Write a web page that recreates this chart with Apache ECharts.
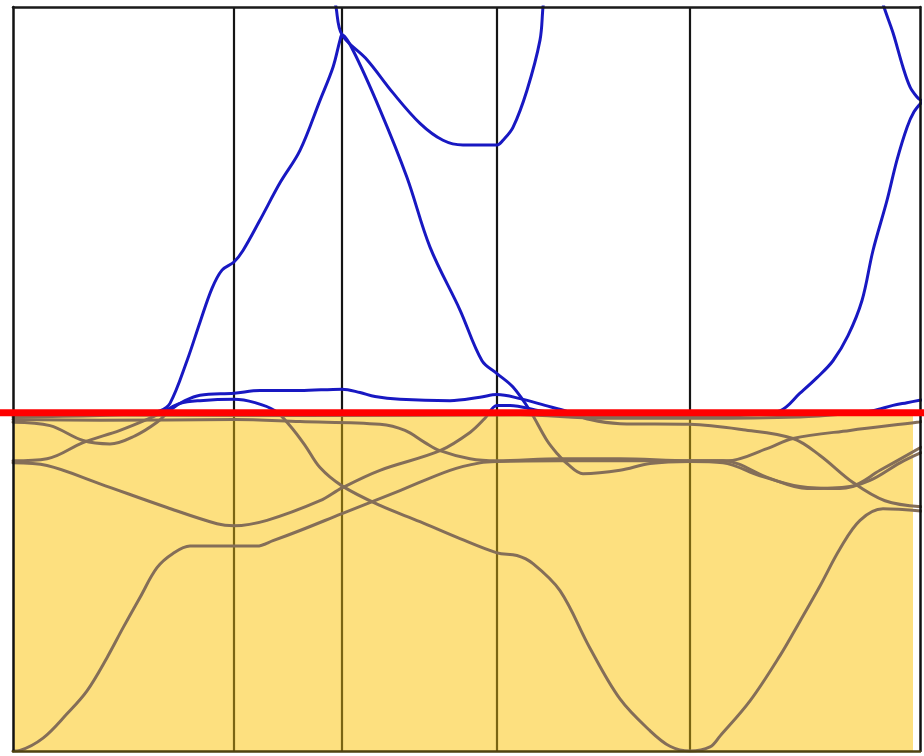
<!DOCTYPE html>
<html>
<head>
<meta charset="utf-8">
<script src="https://cdn.jsdelivr.net/npm/echarts@6/dist/echarts.min.js"></script>
<style>
  html, body { margin: 0; padding: 0; background: #ffffff; }
  #chart { width: 924px; height: 756px; }
</style>
</head>
<body>
<div id="chart"></div>
<script>
// High-symmetry points along the k-path (path-length units)
const kPoints = [0, 2.21, 3.29, 4.84, 6.77, 9.07];
// Energy window (eV) and Fermi level
const energyRange = [-5, 6];
const fermiLevel = 0;
// Extent of the occupied-state shading along k
const occupiedEnd = 9.00;

// Band dispersions E(k), each as [k, E] pairs
const bandC1 = [[0,-0.06],[0.87,-0.04],[1.35,0.00],[1.47,0.03],[1.57,0.14],[1.74,0.77],[1.87,1.34],[1.99,1.84],[2.09,2.11],[2.21,2.23],[2.30,2.40],[2.47,2.85],[2.67,3.40],[2.87,3.88],[3.07,4.62],[3.20,5.11],[3.27,5.51],[3.29,5.59],[3.40,5.36],[3.67,4.48],[3.94,3.48],[4.17,2.45],[4.47,1.52],[4.69,0.77],[4.84,0.58],[5.00,0.38],[5.17,0.03],[5.34,-0.41],[5.44,-0.60],[5.54,-0.75],[5.70,-0.90],[6.07,-0.85],[6.37,-0.75],[6.77,-0.72],[7.10,-0.74],[7.47,-0.93],[7.87,-1.09],[8.27,-1.12],[8.57,-1.00],[8.87,-0.74],[9.08,-0.59]];
const bandT = [[3.15,6.70],[3.23,6.00],[3.29,5.59],[3.54,5.22],[3.80,4.73],[4.07,4.28],[4.30,4.03],[4.50,3.96],[4.84,3.96],[4.90,4.03],[5.00,4.22],[5.14,4.77],[5.27,5.51],[5.30,6.00],[5.34,6.55]];
const bandR2 = [[8.57,6.70],[8.71,6.00],[8.80,5.62],[8.90,5.11],[8.97,4.82],[9.04,4.67],[9.08,4.62]];
const bandP = [[0,-0.14],[0.37,-0.19],[0.70,-0.41],[0.97,-0.46],[1.22,-0.34],[1.44,-0.14],[1.59,0.06],[1.72,0.18],[1.87,0.26],[2.21,0.29],[2.47,0.33],[2.87,0.33],[3.29,0.35],[3.47,0.30],[3.62,0.24],[3.87,0.20],[4.37,0.18],[4.67,0.23],[4.84,0.27],[5.07,0.21],[5.32,0.11],[5.54,0.02],[5.77,-0.10],[6.07,-0.16],[6.77,-0.17],[7.30,-0.25],[7.80,-0.38],[8.07,-0.63],[8.40,-1.03],[8.72,-1.30],[9.08,-1.39]];
const bandQ = [[0,-0.71],[0.34,-0.68],[0.70,-0.44],[1.07,-0.26],[1.37,-0.08],[1.52,0.03],[1.67,0.14],[1.87,0.18],[2.21,0.20],[2.42,0.15],[2.62,0.03],[2.77,-0.19],[2.92,-0.48],[3.07,-0.81],[3.29,-1.08],[3.67,-1.37],[4.07,-1.61],[4.47,-1.86],[4.84,-2.07],[5.04,-2.11],[5.20,-2.23],[5.47,-2.63],[5.77,-3.48],[6.07,-4.23],[6.37,-4.70],[6.57,-4.93],[6.77,-5.00],[6.97,-4.94],[7.07,-4.78],[7.37,-4.26],[7.67,-3.59],[7.87,-3.08],[8.07,-2.56],[8.27,-2.01],[8.47,-1.59],[8.70,-1.42],[9.08,-1.45]];
const bandB2 = [[0,-0.74],[0.34,-0.78],[0.87,-1.05],[1.54,-1.40],[2.04,-1.64],[2.21,-1.67],[2.54,-1.59],[3.07,-1.30],[3.29,-1.11],[3.67,-0.85],[4.27,-0.56],[4.57,-0.29],[4.72,-0.08],[4.84,0.11],[4.97,0.11],[5.27,0.03],[5.57,-0.03],[6.77,-0.07],[7.27,-0.04],[7.67,0.03],[7.87,0.29],[8.04,0.52],[8.20,0.77],[8.35,1.14],[8.49,1.66],[8.60,2.40],[8.74,3.14],[8.84,3.74],[8.94,4.22],[9.01,4.45],[9.08,4.58]];
const bandY = [[0,-0.10],[0.87,-0.11],[2.21,-0.10],[2.87,-0.13],[3.67,-0.17],[3.92,-0.26],[4.12,-0.44],[4.27,-0.56],[4.57,-0.68],[4.84,-0.71],[5.47,-0.68],[6.07,-0.68],[6.77,-0.71],[7.14,-0.71],[7.54,-0.53],[7.80,-0.38],[8.37,-0.26],[9.04,-0.14],[9.08,-0.13]];
const bandB1 = [[0,-5.00],[0.07,-4.99],[0.30,-4.81],[0.54,-4.45],[0.74,-4.11],[0.94,-3.62],[1.10,-3.18],[1.27,-2.73],[1.44,-2.29],[1.60,-2.08],[1.77,-1.97],[2.21,-1.97],[2.44,-1.97],[2.60,-1.89],[2.87,-1.74],[3.29,-1.49],[3.87,-1.15],[4.37,-0.85],[4.67,-0.74],[4.84,-0.72],[5.47,-0.71],[6.27,-0.71],[7.10,-0.71],[7.57,-0.97],[7.94,-1.12],[8.37,-1.09],[8.67,-0.85],[9.08,-0.51]];
const bandZ = [[0,-0.03],[2.87,-0.04],[5.07,-0.03],[5.87,-0.08],[6.87,-0.08],[7.87,-0.06],[8.37,-0.01],[8.60,0.03],[8.80,0.11],[8.94,0.15],[9.08,0.19]];

const bands = [bandC1, bandT, bandR2, bandP, bandQ, bandB2, bandY, bandB1, bandZ];

const colors = {
  occupied: '#fde07f',
  bandBelow: '#846e58',
  bandAbove: '#1818c2',
  symLineBelow: '#7a6512',
  symLineAbove: '#151515',
  fermi: '#ff0000'
};

const chart = echarts.init(document.getElementById('chart'), null, { renderer: 'canvas' });
const kMax = kPoints[kPoints.length - 1];
const [eMin, eMax] = energyRange;

const series = [];

// Shading of occupied states below the Fermi level
series.push({
  type: 'line',
  xAxisIndex: 0, yAxisIndex: 0,
  data: [[0, fermiLevel], [occupiedEnd, fermiLevel]],
  symbol: 'none',
  lineStyle: { width: 0 },
  areaStyle: { color: colors.occupied, opacity: 1, origin: 'start' },
  silent: true,
  z: 1
});

// Vertical lines at the interior high-symmetry points
const symIdx = [];
kPoints.slice(1, -1).forEach(k => {
  symIdx.push(series.length);
  series.push({
    type: 'line',
    xAxisIndex: 0, yAxisIndex: 0,
    data: [[k, eMin], [k, eMax]],
    symbol: 'none',
    lineStyle: { width: 2.2 },
    silent: true,
    z: 2
  });
});

// Bands
const bandIdx = [];
bands.forEach(b => {
  bandIdx.push(series.length);
  series.push({
    type: 'line',
    xAxisIndex: 0, yAxisIndex: 0,
    data: b,
    symbol: 'none',
    smooth: 0.35,
    lineStyle: { width: 3, cap: 'round', join: 'round' },
    clip: true,
    silent: true,
    z: 3
  });
});

// Fermi level across the full width
series.push({
  type: 'line',
  xAxisIndex: 2, yAxisIndex: 2,
  data: [[0, fermiLevel], [1, fermiLevel]],
  symbol: 'none',
  lineStyle: { width: 7, color: colors.fermi },
  silent: true,
  z: 6
});

const hidden = { show: false };
const noDecor = { axisTick: hidden, axisLabel: hidden, splitLine: hidden };

chart.setOption({
  animation: false,
  backgroundColor: '#ffffff',
  grid: [
    { left: 13, right: 4, top: 7, bottom: 5 },
    { left: 0, right: 0, top: 7, bottom: 5 }
  ],
  xAxis: [
    Object.assign({ gridIndex: 0, type: 'value', min: 0, max: kMax, position: 'bottom', z: 5,
      axisLine: { show: true, onZero: false, lineStyle: { color: '#4f4210', width: 2.5 } } }, noDecor),
    Object.assign({ gridIndex: 0, type: 'value', min: 0, max: kMax, position: 'top', z: 5,
      axisLine: { show: true, onZero: false, lineStyle: { color: '#1a1a1a', width: 2.5 } } }, noDecor),
    { gridIndex: 1, type: 'value', min: 0, max: 1, show: false }
  ],
  yAxis: [
    Object.assign({ gridIndex: 0, type: 'value', min: eMin, max: eMax, position: 'left', z: 5,
      axisLine: { show: true, onZero: false, lineStyle: { color: '#111111', width: 2.5 } } }, noDecor),
    Object.assign({ gridIndex: 0, type: 'value', min: eMin, max: eMax, position: 'right', z: 5,
      axisLine: { show: true, onZero: false, lineStyle: { color: '#111111', width: 2.5 } } }, noDecor),
    { gridIndex: 1, type: 'value', min: eMin, max: eMax, show: false }
  ],
  visualMap: [
    {
      type: 'piecewise', show: false, dimension: 1, seriesIndex: bandIdx,
      pieces: [
        { gte: -20, lt: fermiLevel, color: colors.bandBelow },
        { gte: fermiLevel, lte: 20, color: colors.bandAbove }
      ]
    },
    {
      type: 'piecewise', show: false, dimension: 1, seriesIndex: symIdx,
      pieces: [
        { gte: -20, lt: fermiLevel, color: colors.symLineBelow },
        { gte: fermiLevel, lte: 20, color: colors.symLineAbove }
      ]
    }
  ],
  series: series
});
</script>
</body>
</html>
